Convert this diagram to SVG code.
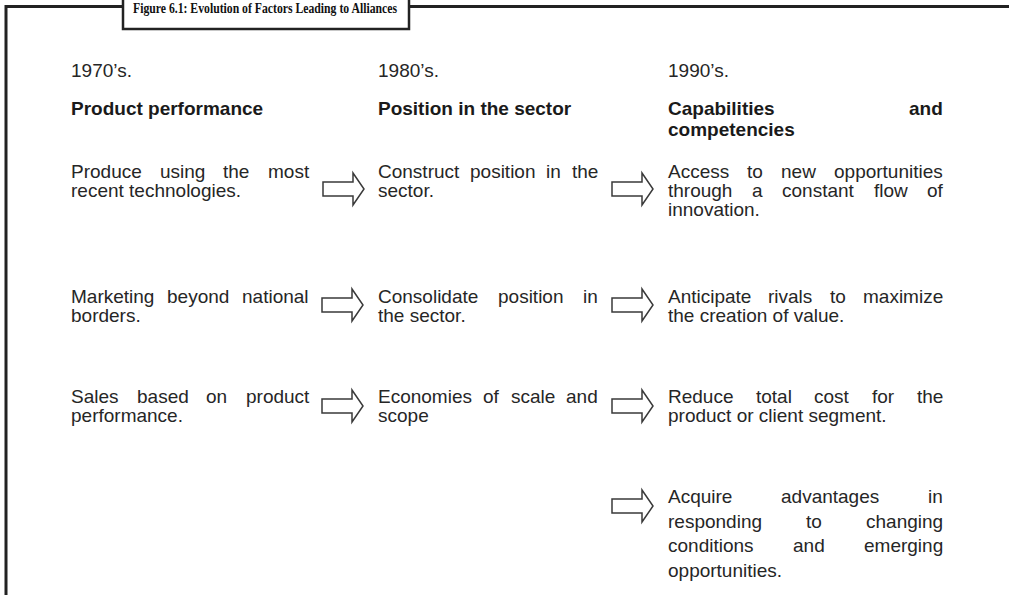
<svg xmlns="http://www.w3.org/2000/svg" xmlns:xlink="http://www.w3.org/1999/xlink" width="1009" height="595" viewBox="0 0 1009 595">
<style>
  .t{font-family:"Liberation Sans",Arial,sans-serif;font-size:19px;fill:#262626}
  .b{font-weight:bold;fill:#1a1a1a}
  .frame{fill:none;stroke:#222;stroke-width:3}
  .arrow{fill:#fff;stroke:#3a3a3a;stroke-width:1.5;stroke-linejoin:miter}
  .title{font-family:"Liberation Serif","Times New Roman",serif;font-weight:bold;font-size:15.5px;fill:#111}
</style>
<defs>
  <path id="arr" class="arrow" d="M0,-7 H30 V-16 L41,0 L30,16 V7 H0 Z"/>
</defs>
<rect width="1009" height="595" fill="#fff"/>
<g id="frame">
  <path class="frame" d="M6,595 V6.5 H123 M409,6.5 H1009"/>
  <rect x="123" y="-5" width="286" height="34" fill="#fff" stroke="#222" stroke-width="2.5"/>
  <text class="title" x="133" y="13" textLength="264" lengthAdjust="spacingAndGlyphs">Figure 6.1: Evolution of Factors Leading to Alliances</text>
</g>
<g id="col1-header">
  <text class="t" x="71" y="77">1970’s.</text>
  <text class="t b" x="71" y="115">Product performance</text>
</g>
<g id="col2-header">
  <text class="t" x="378" y="77">1980’s.</text>
  <text class="t b" x="378" y="115">Position in the sector</text>
</g>
<g id="col3-header">
  <text class="t" x="668" y="77">1990’s.</text>
  <text class="t b" y="115"><tspan x="668">Capabilities</tspan><tspan x="909">and</tspan></text>
  <text class="t b" x="668" y="136">competencies</text>
</g>
<g id="n-1-1">
  <text class="t" y="178"><tspan x="71">Produce</tspan><tspan x="160">using</tspan><tspan x="223">the</tspan><tspan x="268">most</tspan></text>
  <text class="t" x="71" y="197">recent technologies.</text>
</g>
<g id="n-1-2">
  <text class="t" y="178"><tspan x="378">Construct</tspan><tspan x="470">position</tspan><tspan x="546">in</tspan><tspan x="572">the</tspan></text>
  <text class="t" x="378" y="197">sector.</text>
</g>
<g id="n-1-3">
  <text class="t" y="178"><tspan x="668">Access</tspan><tspan x="747">to</tspan><tspan x="781">new</tspan><tspan x="834">opportunities</tspan></text>
  <text class="t" y="197"><tspan x="668">through</tspan><tspan x="752">a</tspan><tspan x="782">constant</tspan><tspan x="874">flow</tspan><tspan x="927">of</tspan></text>
  <text class="t" x="668" y="216">innovation.</text>
</g>
<g id="n-2-1">
  <text class="t" y="303"><tspan x="71">Marketing</tspan><tspan x="167">beyond</tspan><tspan x="242">national</tspan></text>
  <text class="t" x="71" y="322">borders.</text>
</g>
<g id="n-2-2">
  <text class="t" y="303"><tspan x="378">Consolidate</tspan><tspan x="498">position</tspan><tspan x="583">in</tspan></text>
  <text class="t" x="378" y="322">the sector.</text>
</g>
<g id="n-2-3">
  <text class="t" y="303"><tspan x="668">Anticipate</tspan><tspan x="768">rivals</tspan><tspan x="830">to</tspan><tspan x="863">maximize</tspan></text>
  <text class="t" x="668" y="322">the creation of value.</text>
</g>
<g id="n-3-1">
  <text class="t" y="403"><tspan x="71">Sales</tspan><tspan x="137">based</tspan><tspan x="206">on</tspan><tspan x="246">product</tspan></text>
  <text class="t" x="71" y="422">performance.</text>
</g>
<g id="n-3-2">
  <text class="t" y="403"><tspan x="378">Economies</tspan><tspan x="483">of</tspan><tspan x="511">scale</tspan><tspan x="566">and</tspan></text>
  <text class="t" x="378" y="422">scope</text>
</g>
<g id="n-3-3">
  <text class="t" y="403"><tspan x="668">Reduce</tspan><tspan x="756">total</tspan><tspan x="814">cost</tspan><tspan x="872">for</tspan><tspan x="917">the</tspan></text>
  <text class="t" x="668" y="422">product or client segment.</text>
</g>
<g id="n-4-3">
  <text class="t" y="503"><tspan x="668">Acquire</tspan><tspan x="781">advantages</tspan><tspan x="928">in</tspan></text>
  <text class="t" y="528"><tspan x="668">responding</tspan><tspan x="806">to</tspan><tspan x="866">changing</tspan></text>
  <text class="t" y="552"><tspan x="668">conditions</tspan><tspan x="793">and</tspan><tspan x="864">emerging</tspan></text>
  <text class="t" x="668" y="577">opportunities.</text>
</g>
<g id="connectors">
  <use xlink:href="#arr" x="323" y="189"/>
  <use xlink:href="#arr" x="612" y="189"/>
  <use xlink:href="#arr" x="322" y="305"/>
  <use xlink:href="#arr" x="612" y="305"/>
  <use xlink:href="#arr" x="322" y="406"/>
  <use xlink:href="#arr" x="612" y="406"/>
  <use xlink:href="#arr" x="612" y="506"/>
</g>
</svg>
